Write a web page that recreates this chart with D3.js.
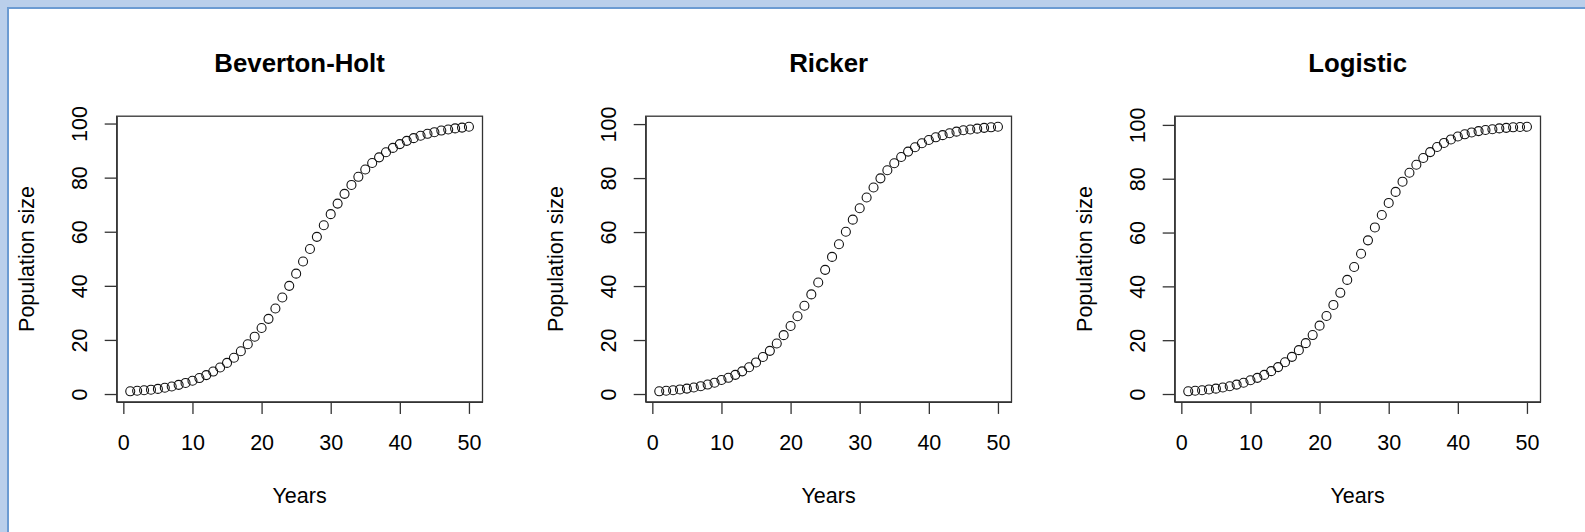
<!DOCTYPE html>
<html>
<head>
<meta charset="utf-8">
<script src="https://cdn.jsdelivr.net/npm/d3@7"></script>
<style>
  html, body { margin: 0; padding: 0; background: #fff; }
  svg { display: block; font-family: "Liberation Sans", Arial, Helvetica, sans-serif; }
</style>
</head>
<body>
<script>
// Data
const years = [1,2,3,4,5,6,7,8,9,10,11,12,13,14,15,16,17,18,19,20,21,22,23,24,25,
               26,27,28,29,30,31,32,33,34,35,36,37,38,39,40,41,42,43,44,45,46,47,48,49,50];

const bevertonHolt = [1.0,1.2,1.4,1.6,1.9,2.3,2.8,3.4,4.1,4.9,5.9,7.0,8.3,9.8,11.5,13.4,15.8,18.4,21.2,24.4,
                      27.8,31.6,35.7,40.0,44.5,49.0,53.6,58.1,62.4,66.5,70.4,74.0,77.3,80.3,83.0,85.4,87.5,89.4,91.0,92.4,
                      93.6,94.6,95.5,96.2,96.8,97.4,97.8,98.2,98.5,98.8];

const ricker = [1.0,1.2,1.4,1.7,2.0,2.4,2.9,3.5,4.2,5.2,6.0,7.1,8.4,9.9,11.7,13.7,16.0,18.7,21.8,25.2,
                28.8,32.7,36.9,41.3,46.0,50.8,55.5,60.1,64.6,68.8,72.8,76.5,79.9,82.9,85.5,87.8,89.8,91.4,92.9,94.1,
                95.1,95.9,96.6,97.2,97.7,98.0,98.3,98.6,98.8,99.0];

const logistic = [1.0,1.2,1.4,1.7,2.0,2.4,2.9,3.5,4.2,5.1,6.0,7.1,8.5,10.0,11.8,13.8,16.3,18.9,21.9,25.4,
                  29.0,33.1,37.6,42.4,47.2,52.1,57.1,61.9,66.5,71.0,75.1,78.9,82.2,85.2,87.7,89.9,91.8,93.3,94.6,95.7,
                  96.5,97.2,97.7,98.1,98.4,98.7,98.9,99.1,99.2,99.3];

const titles = ["Beverton-Holt", "Ricker", "Logistic"];
const xTicks = [0, 10, 20, 30, 40, 50];
const yTicks = [0, 20, 40, 60, 80, 100];
const xLabel = "Years";
const yLabel = "Population size";

const series = [bevertonHolt, ricker, logistic];

// Page / panel geometry
const W = 1585, H = 532;
const panelW = 529;
const origin = { x: 8, y: 8 };
const margin = { left: 108.7, top: 108.2 };
const plotW = 365.8, plotH = 285.7;
const fs = 21.5;

const svg = d3.select("body").append("svg")
    .attr("width", W)
    .attr("height", H);

// window frame
svg.append("rect").attr("width", W).attr("height", H).attr("fill", "#bacfeb");
svg.append("rect").attr("x", 7).attr("y", 7).attr("width", W).attr("height", H).attr("fill", "#6c9bd2");
svg.append("rect").attr("x", 9).attr("y", 9).attr("width", W).attr("height", H).attr("fill", "#ffffff");

// R-style axis range: data extent padded by 4%
function padded(ext) {
    const p = (ext[1] - ext[0]) * 0.04;
    return [ext[0] - p, ext[1] + p];
}

series.forEach((values, i) => {

    const left = origin.x + i * panelW + margin.left;
    const top = origin.y + margin.top;

    const x = d3.scaleLinear().domain(padded(d3.extent(years))).range([0, plotW]);
    const y = d3.scaleLinear().domain(padded(d3.extent(values))).range([plotH, 0]);

    const g = svg.append("g")
        .attr("transform", "translate(" + left + "," + top + ")");

    // x axis
    const gx = g.append("g")
        .attr("transform", "translate(0," + plotH + ")")
        .call(d3.axisBottom(x).tickValues(xTicks).tickSize(12).tickSizeOuter(0));

    // y axis
    const gy = g.append("g")
        .call(d3.axisLeft(y).tickValues(yTicks).tickSize(12).tickSizeOuter(0));

    [gx, gy].forEach(a => {
        a.select(".domain").attr("stroke", "#333").attr("stroke-width", 1.2);
        a.selectAll(".tick line").attr("stroke", "#333").attr("stroke-width", 1.3);
        a.selectAll("text")
            .attr("fill", "#000")
            .attr("font-size", fs)
            .attr("font-family", "'Liberation Sans', Arial, sans-serif");
    });

    gx.selectAll("text").attr("y", 48.4).attr("dy", null);

    gy.selectAll("text")
        .attr("transform", "rotate(-90)")
        .attr("text-anchor", "middle")
        .attr("x", 0)
        .attr("y", -29.5)
        .attr("dy", null);

    // box
    g.append("rect")
        .attr("width", plotW)
        .attr("height", plotH)
        .attr("fill", "none")
        .attr("stroke", "#333")
        .attr("stroke-width", 1.3);

    // points
    g.append("g").selectAll("circle")
        .data(values)
        .join("circle")
        .attr("cx", (d, j) => x(years[j]))
        .attr("cy", d => y(d))
        .attr("r", 4.5)
        .attr("fill", "none")
        .attr("stroke", "#111")
        .attr("stroke-width", 1.1);

    // title
    g.append("text")
        .attr("x", plotW / 2)
        .attr("y", -44.5)
        .attr("text-anchor", "middle")
        .attr("font-weight", "bold")
        .attr("font-size", fs * 1.2)
        .text(titles[i]);

    // axis labels
    g.append("text")
        .attr("x", plotW / 2)
        .attr("y", plotH + 101)
        .attr("text-anchor", "middle")
        .attr("font-size", fs)
        .text(xLabel);

    g.append("text")
        .attr("transform", "translate(-83," + (plotH / 2) + ") rotate(-90)")
        .attr("text-anchor", "middle")
        .attr("font-size", fs)
        .text(yLabel);
});
</script>
</body>
</html>
